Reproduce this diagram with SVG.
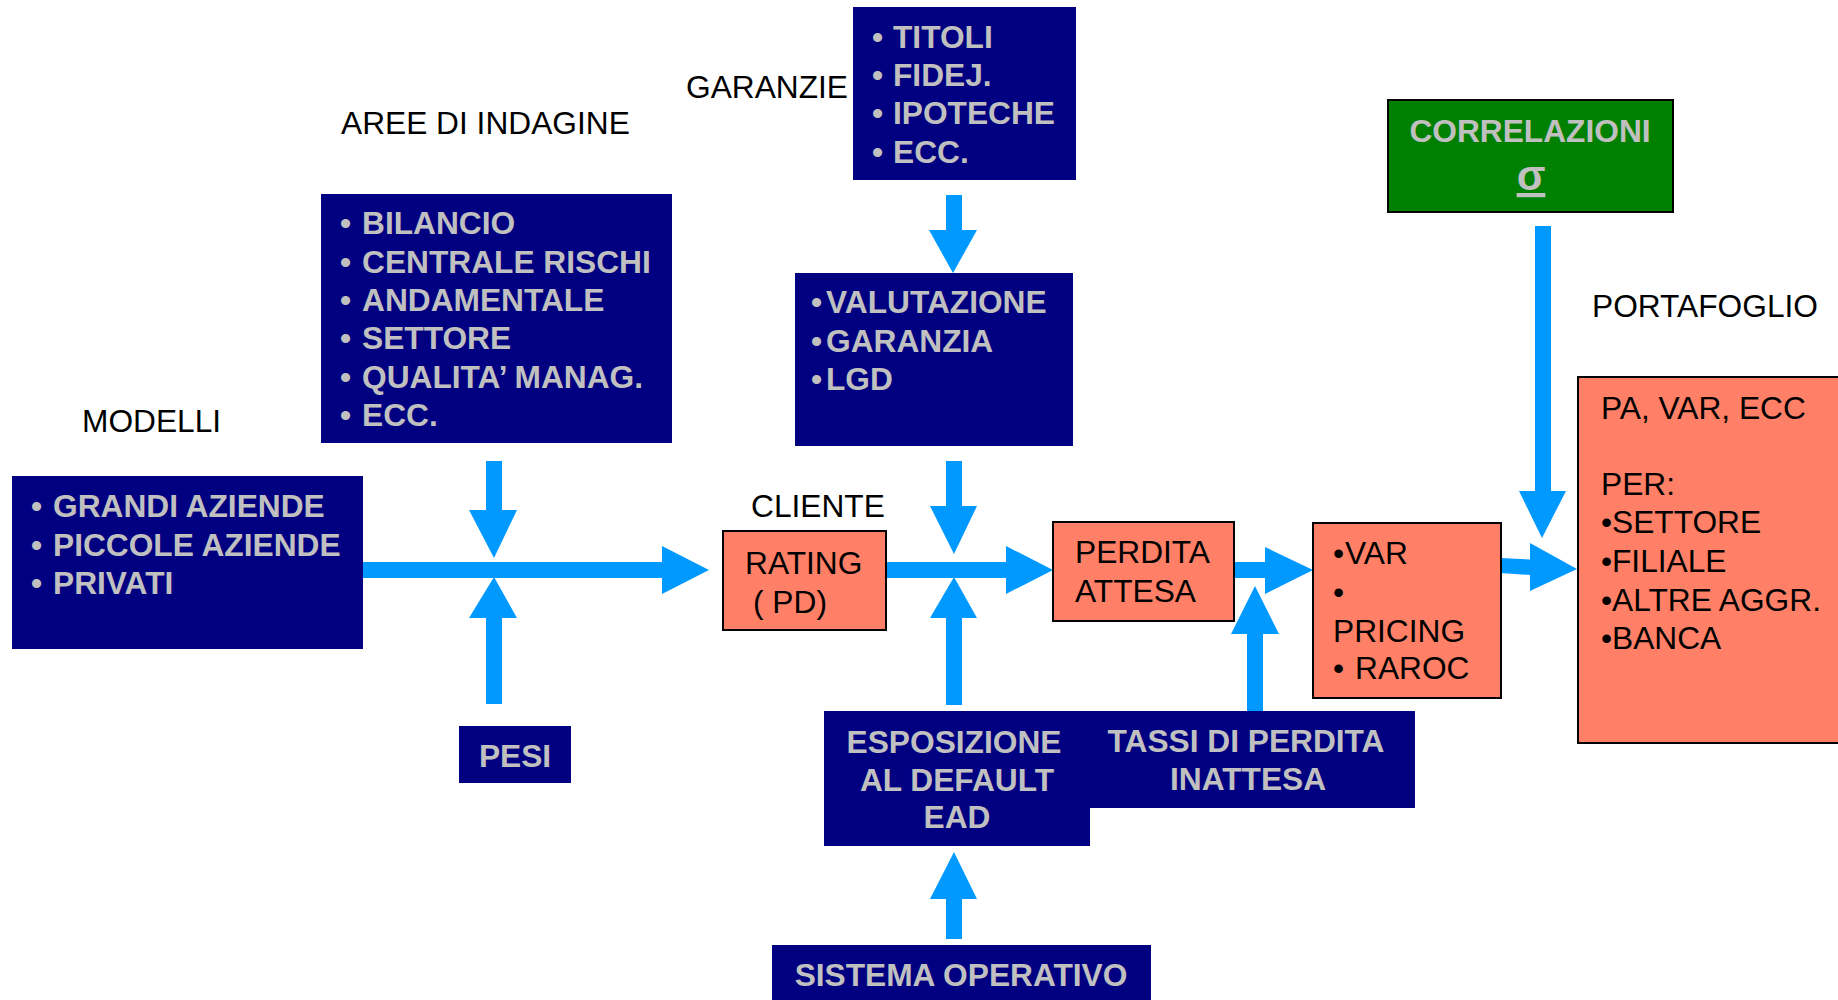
<svg xmlns="http://www.w3.org/2000/svg" width="1838" height="1000" viewBox="0 0 1838 1000">
<style>
text{font-family:"Liberation Sans",Arial,sans-serif;font-size:31.7px}
.lbl{fill:#000}
.nb{fill:#000080}
.nt{fill:#C0C0C0;font-weight:bold}
.sal{fill:#FF8066;stroke:#000;stroke-width:2}
.st{fill:#000}
.arr{fill:#0099FF}
</style>
<rect width="1838" height="1000" fill="#fff"/>

<g id="labels">
<text class="lbl" x="341" y="134">AREE DI INDAGINE</text>
<text class="lbl" x="686" y="98">GARANZIE</text>
<text class="lbl" x="82" y="432">MODELLI</text>
<text class="lbl" x="751" y="517">CLIENTE</text>
<text class="lbl" x="1592" y="317">PORTAFOGLIO</text>
</g>

<g id="connectors">
<!-- MODELLI -> RATING -->
<rect class="arr" x="363" y="562" width="300" height="16"/>
<polygon class="arr" points="662,546 709,570 662,594"/>
<!-- AREE -> junction -->
<rect class="arr" x="486" y="461" width="16" height="50"/>
<polygon class="arr" points="469,510 517,510 494,558"/>
<!-- PESI -> junction -->
<rect class="arr" x="486" y="617" width="16" height="87"/>
<polygon class="arr" points="469,618 517,618 494,577"/>
<!-- TITOLI -> VALUTAZIONE -->
<rect class="arr" x="946" y="195" width="16" height="36"/>
<polygon class="arr" points="929,230 977,230 953,273"/>
<!-- VALUTAZIONE -> junction -->
<rect class="arr" x="946" y="461" width="16" height="46"/>
<polygon class="arr" points="930,506 977,506 954,554"/>
<!-- EAD -> junction -->
<rect class="arr" x="946" y="617" width="16" height="88"/>
<polygon class="arr" points="930,618 977,618 954,577"/>
<!-- RATING -> PERDITA -->
<rect class="arr" x="886" y="562" width="121" height="16"/>
<polygon class="arr" points="1006,546 1053,570 1006,594"/>
<!-- SISTEMA -> EAD -->
<rect class="arr" x="946" y="898" width="16" height="41"/>
<polygon class="arr" points="930,899 977,899 954,852"/>
<!-- PERDITA -> VAR -->
<rect class="arr" x="1234" y="562" width="32" height="16"/>
<polygon class="arr" points="1265,547 1313,570 1265,594"/>
<!-- TASSI -> junction -->
<rect class="arr" x="1247" y="633" width="16" height="78"/>
<polygon class="arr" points="1231,634 1279,634 1255,586"/>
<!-- VAR -> PA -->
<polygon class="arr" points="1500,558 1531,559.5 1531,575 1500,573"/>
<polygon class="arr" points="1530,543 1577,569 1530,591"/>
<!-- CORRELAZIONI -> PA -->
<rect class="arr" x="1535" y="226" width="16" height="266"/>
<polygon class="arr" points="1519,491 1566,491 1542,538"/>
</g>

<g id="node-bilancio">
<rect class="nb" x="321" y="194" width="351" height="249"/>
<text class="nt"><tspan x="340" y="234">•</tspan><tspan x="362">BILANCIO</tspan></text>
<text class="nt"><tspan x="340" y="273">•</tspan><tspan x="362">CENTRALE RISCHI</tspan></text>
<text class="nt"><tspan x="340" y="311">•</tspan><tspan x="362">ANDAMENTALE</tspan></text>
<text class="nt"><tspan x="340" y="349">•</tspan><tspan x="362">SETTORE</tspan></text>
<text class="nt"><tspan x="340" y="388">•</tspan><tspan x="362">QUALITA’ MANAG.</tspan></text>
<text class="nt"><tspan x="340" y="426">•</tspan><tspan x="362">ECC.</tspan></text>
</g>

<g id="node-titoli">
<rect class="nb" x="853" y="7" width="223" height="173"/>
<text class="nt"><tspan x="872" y="48">•</tspan><tspan x="893">TITOLI</tspan></text>
<text class="nt"><tspan x="872" y="86">•</tspan><tspan x="893">FIDEJ.</tspan></text>
<text class="nt"><tspan x="872" y="124">•</tspan><tspan x="893">IPOTECHE</tspan></text>
<text class="nt"><tspan x="872" y="163">•</tspan><tspan x="893">ECC.</tspan></text>
</g>

<g id="node-valutazione">
<rect class="nb" x="795" y="273" width="278" height="173"/>
<text class="nt"><tspan x="811" y="313">•</tspan><tspan x="826">VALUTAZIONE</tspan></text>
<text class="nt"><tspan x="811" y="352">•</tspan><tspan x="826">GARANZIA</tspan></text>
<text class="nt"><tspan x="811" y="390">•</tspan><tspan x="826">LGD</tspan></text>
</g>

<g id="node-modelli">
<rect class="nb" x="12" y="476" width="351" height="173"/>
<text class="nt"><tspan x="31" y="517">•</tspan><tspan x="53">GRANDI AZIENDE</tspan></text>
<text class="nt"><tspan x="31" y="556">•</tspan><tspan x="53">PICCOLE AZIENDE</tspan></text>
<text class="nt"><tspan x="31" y="594">•</tspan><tspan x="53">PRIVATI</tspan></text>
</g>

<g id="node-pesi">
<rect class="nb" x="459" y="726" width="112" height="57"/>
<text class="nt" x="515" y="767" text-anchor="middle">PESI</text>
</g>

<g id="node-rating">
<rect class="sal" x="723" y="531" width="163" height="99"/>
<text class="st" x="745" y="574">RATING</text>
<text class="st" x="753" y="613">( PD)</text>
</g>

<g id="node-perdita">
<rect class="sal" x="1053" y="522" width="181" height="99"/>
<text class="st" x="1075" y="563">PERDITA</text>
<text class="st" x="1075" y="602">ATTESA</text>
</g>

<g id="node-var">
<rect class="sal" x="1313" y="523" width="188" height="175"/>
<text class="st"><tspan x="1333" y="564">•</tspan><tspan x="1345">VAR</tspan></text>
<text class="st" x="1333" y="603">•</text>
<text class="st" x="1333" y="642">PRICING</text>
<text class="st"><tspan x="1333" y="679">•</tspan><tspan x="1355">RAROC</tspan></text>
</g>

<g id="node-tassi">
<rect class="nb" x="1085" y="711" width="330" height="97"/>
<text class="nt" x="1246" y="752" text-anchor="middle">TASSI DI PERDITA</text>
<text class="nt" x="1248" y="790" text-anchor="middle">INATTESA</text>
</g>

<g id="node-ead">
<rect class="nb" x="824" y="711" width="266" height="135"/>
<text class="nt" x="954" y="753" text-anchor="middle">ESPOSIZIONE</text>
<text class="nt" x="957" y="791" text-anchor="middle">AL DEFAULT</text>
<text class="nt" x="957" y="828" text-anchor="middle">EAD</text>
</g>

<g id="node-sistema">
<rect class="nb" x="772" y="945" width="379" height="60"/>
<text class="nt" x="961" y="986" text-anchor="middle">SISTEMA OPERATIVO</text>
</g>

<g id="node-correlazioni">
<rect x="1388" y="100" width="285" height="112" fill="#008000" stroke="#000" stroke-width="2"/>
<text class="nt" x="1530" y="142" text-anchor="middle">CORRELAZIONI</text>
<text class="nt" x="1531" y="190" text-anchor="middle" text-decoration="underline" style="font-size:42px">σ</text>
</g>

<g id="node-portafoglio">
<rect class="sal" x="1578" y="377" width="300" height="366"/>
<text class="st" x="1601" y="419">PA, VAR, ECC</text>
<text class="st" x="1601" y="495">PER:</text>
<text class="st"><tspan x="1601" y="533">•</tspan><tspan x="1612">SETTORE</tspan></text>
<text class="st"><tspan x="1601" y="572">•</tspan><tspan x="1612">FILIALE</tspan></text>
<text class="st"><tspan x="1601" y="611">•</tspan><tspan x="1612">ALTRE AGGR.</tspan></text>
<text class="st"><tspan x="1601" y="649">•</tspan><tspan x="1612">BANCA</tspan></text>
</g>
</svg>
